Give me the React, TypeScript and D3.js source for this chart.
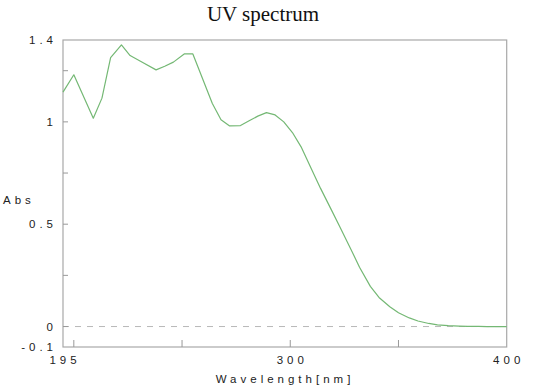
import React from 'react';
import * as d3 from 'd3';

// spectrum samples
const wavelengths = [195, 200, 209, 213, 217, 222, 226, 231, 238, 242, 246, 251, 255, 264, 268, 272, 277, 281, 285, 289, 293, 297, 301, 305, 310, 314, 319, 323, 328, 332, 337, 341, 346, 350, 355, 359, 364, 368, 373, 378, 382, 387, 391, 396, 400];
const absorbance = [1.145, 1.23, 1.018, 1.116, 1.314, 1.376, 1.324, 1.295, 1.254, 1.272, 1.292, 1.332, 1.332, 1.09, 1.01, 0.98, 0.982, 1.005, 1.028, 1.045, 1.034, 1.0, 0.948, 0.878, 0.765, 0.675, 0.57, 0.485, 0.378, 0.29, 0.196, 0.142, 0.097, 0.067, 0.042, 0.027, 0.015, 0.008, 0.004, 0.002, 0.001, 0.001, 0, 0, 0];

const xTickValues = [200, 250, 300, 350];
const xLabels = ['195', '300', '400'];
const yMinorTicks = [0.25, 0.75, 1.25];
const yMajorTicks = [0, 0.5, 1];
const yLabels = ['-0.1', '0', '0.5', '1', '1.4'];

const W = 550;
const H = 389;
const left = 63, right = 506.7, top = 40, bottom = 347;
const font = 'Arial, "Liberation Sans", sans-serif';

const App = () => {
    const x = d3.scaleLinear().domain([195, 400]).range([left, right]);
    const y = d3.scaleLinear().domain([-0.1, 1.4]).range([bottom, top]);

    const line = d3.line<number>()
        .x((d, i) => x(wavelengths[i]))
        .y(d => y(d));

    return (
        <svg width={W} height={H} style={{ position: 'absolute', left: 0, top: 0, background: '#fff' }}>
            <text x={263} y={21} textAnchor="middle" fontFamily='"Liberation Serif", "Times New Roman", serif' fontSize={21} fill="#111">UV spectrum</text>

            {/* zero line */}
            <line x1={left} x2={right} y1={y(0)} y2={y(0)} stroke="#b8b8b8" strokeDasharray="6,6" />

            {/* frame */}
            <rect x={left} y={top} width={right - left} height={bottom - top} fill="none" stroke="#a8a8a8" strokeWidth={1.2} />

            {/* y ticks */}
            {yMajorTicks.concat(yMinorTicks).map(t => (
                <line key={t} x1={left} x2={left + 5} y1={y(t)} y2={y(t)} stroke="#999" />
            ))}
            {/* x ticks */}
            {xTickValues.map(t => (
                <line key={t} x1={x(t)} x2={x(t)} y1={bottom} y2={bottom - 7} stroke="#999" />
            ))}

            <path d={line(absorbance) || ''} fill="none" stroke="#74b874" strokeWidth={1.2} strokeLinejoin="round" />

            {/* y labels */}
            {yLabels.map(l => (
                <text key={l} x={57} y={y(+l) + 4} textAnchor="end" fontFamily={font} fontSize={11.5} letterSpacing={4} fill="#222">
                    {l}
                </text>
            ))}
            <text x={3} y={204} fontFamily={font} fontSize={11.5} letterSpacing={4} fill="#222">Abs</text>

            {/* x labels */}
            {xLabels.map(l => (
                <text key={l} x={x(+l) + 2} y={364} textAnchor="middle" fontFamily={font} fontSize={11.5} letterSpacing={4} fill="#222">
                    {l}
                </text>
            ))}
            <text x={285} y={383} textAnchor="middle" fontFamily={font} fontSize={11.5} letterSpacing={4} fill="#222">Wavelength[nm]</text>
        </svg>
    );
};

export default App;
